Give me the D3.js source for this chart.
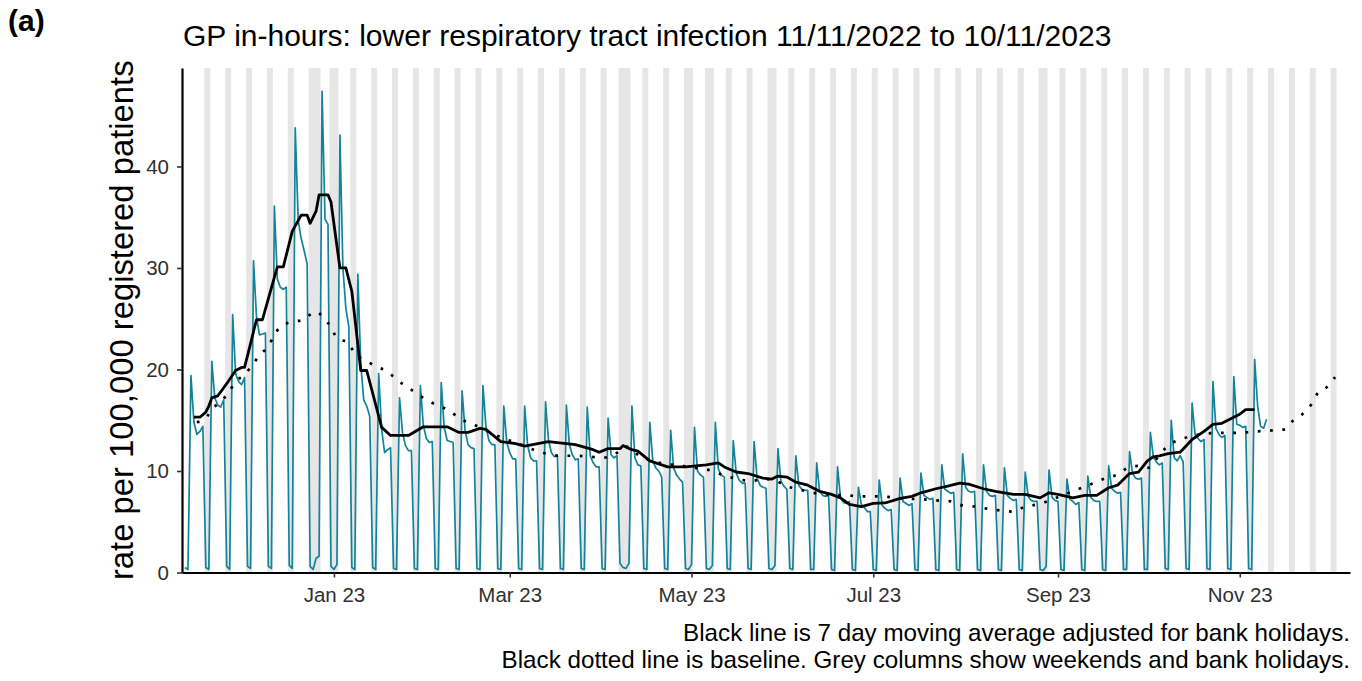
<!DOCTYPE html>
<html>
<head>
<meta charset="utf-8">
<script src="https://cdn.jsdelivr.net/npm/d3@7"></script>
<style>
  body { margin: 0; background: #fff; }
  svg { display: block; font-family: "Liberation Sans", Arial, sans-serif; }
</style>
</head>
<body>
<svg id="chart" width="1362" height="681"></svg>
<script>
// ---------------- DATA ----------------
const titleText = "GP in-hours: lower respiratory tract infection 11/11/2022 to 10/11/2023";
const panelLabel = "(a)";
const yAxisTitle = "rate per 100,000 registered patients";
const captionLines = [
  "Black line is 7 day moving average adjusted for bank holidays.",
  "Black dotted line is baseline. Grey columns show weekends and bank holidays."
];

// daily rate, one row per week: [Sat, Sun, Mon, Tue, Wed, Thu, Fri], first day Sat 12/11/2022
const dailyStart = "2022-11-12";
const dailyRate = [
  [0.5, 0.3, 19.4, 14.8, 13.6, 13.9, 14.4],
  [0.5, 0.3, 20.8, 17.2, 16.5, 16.3, 17.0],
  [0.6, 0.3, 25.4, 19.6, 18.8, 18.5, 19.2],
  [0.6, 0.4, 30.7, 25.2, 23.4, 23.5, 23.6],
  [0.6, 0.4, 36.1, 28.9, 28.1, 27.9, 28.1],
  [0.7, 0.4, 43.8, 34.7, 32.9, 31.7, 30.4],
  [0.6, 0.3, 1.4, 1.6, 47.4, 34.8, 34.3],
  [0.6, 0.3, 0.8, 43.1, 30.0, 26.0, 24.2],
  [0.5, 0.3, 29.4, 20.5, 17.0, 16.4, 15.4],
  [0.5, 0.3, 19.6, 14.1, 11.8, 12.1, 12.3],
  [0.4, 0.3, 17.2, 13.8, 12.5, 12.0, 12.0],
  [0.4, 0.3, 18.4, 14.5, 13.2, 12.8, 12.9],
  [0.4, 0.3, 18.7, 14.3, 13.0, 12.9, 12.8],
  [0.4, 0.3, 17.9, 14.0, 12.6, 12.3, 12.2],
  [0.4, 0.3, 18.4, 14.4, 13.0, 12.6, 12.6],
  [0.4, 0.3, 16.4, 12.8, 11.8, 11.2, 11.2],
  [0.4, 0.3, 16.4, 12.5, 11.3, 11.0, 11.0],
  [0.4, 0.3, 16.8, 13.0, 11.8, 11.4, 11.5],
  [0.4, 0.3, 16.5, 12.6, 11.6, 11.1, 11.2],
  [0.4, 0.3, 16.3, 11.5, 10.8, 10.4, 10.4],
  [0.4, 0.3, 15.2, 11.6, 11.3, 11.5, 0.9],
  [0.5, 0.4, 0.9, 16.4, 11.3, 10.6, 10.5],
  [0.4, 0.3, 14.8, 11.0, 10.3, 10.0, 9.4],
  [0.4, 0.3, 14.0, 10.3, 9.6, 9.2, 8.9],
  [0.4, 0.3, 0.8, 14.3, 10.0, 9.6, 9.4],
  [0.4, 0.3, 0.7, 14.8, 10.2, 9.6, 9.4],
  [0.4, 0.3, 13.0, 9.8, 9.1, 8.8, 8.8],
  [0.4, 0.3, 12.9, 9.3, 8.6, 8.4, 8.3],
  [0.4, 0.3, 0.7, 12.2, 9.0, 8.5, 8.2],
  [0.4, 0.3, 11.5, 8.6, 8.2, 8.1, 8.1],
  [0.3, 0.3, 10.8, 8.0, 7.6, 7.5, 7.6],
  [0.3, 0.2, 10.4, 7.4, 6.9, 6.8, 7.0],
  [0.3, 0.2, 8.4, 6.7, 6.4, 6.0, 6.0],
  [0.3, 0.2, 9.1, 6.6, 6.3, 6.1, 6.2],
  [0.3, 0.2, 9.3, 7.0, 6.8, 6.6, 6.8],
  [0.3, 0.2, 9.8, 7.6, 7.4, 7.2, 7.3],
  [0.3, 0.2, 10.6, 8.2, 8.0, 7.8, 7.9],
  [0.3, 0.2, 11.7, 8.4, 8.0, 7.9, 8.0],
  [0.3, 0.2, 10.6, 8.0, 7.6, 7.5, 7.6],
  [0.3, 0.2, 10.3, 7.6, 7.3, 7.1, 7.2],
  [0.3, 0.2, 9.9, 7.5, 7.1, 7.0, 7.0],
  [0.3, 0.2, 0.6, 10.1, 7.4, 7.1, 7.0],
  [0.3, 0.2, 9.2, 7.2, 7.0, 6.7, 6.9],
  [0.3, 0.2, 9.5, 7.4, 7.1, 7.0, 7.0],
  [0.3, 0.2, 10.5, 8.3, 8.0, 7.8, 7.9],
  [0.3, 0.3, 11.9, 9.8, 9.3, 9.2, 9.3],
  [0.3, 0.3, 13.8, 11.4, 10.9, 10.6, 10.8],
  [0.4, 0.3, 15.0, 11.3, 11.0, 11.5, 10.9],
  [0.4, 0.3, 16.7, 13.6, 13.2, 12.9, 13.1],
  [0.4, 0.3, 18.8, 14.2, 13.6, 13.3, 13.5],
  [0.4, 0.3, 19.3, 14.6, 14.5, 14.3, 14.4],
  [0.4, 0.3, 21.0, 16.4, 14.4, 14.2, 15.1]
];

// 7 day moving average (black line)
const movingAverage = [
  ["2022-11-15", 15.3], ["2022-11-17", 15.3], ["2022-11-19", 15.8], ["2022-11-20", 16.4],
  ["2022-11-21", 17.2], ["2022-11-23", 17.4], ["2022-11-25", 18.2], ["2022-11-26", 18.6],
  ["2022-11-29", 19.9], ["2022-12-01", 20.2], ["2022-12-02", 20.2], ["2022-12-06", 24.9],
  ["2022-12-08", 24.9], ["2022-12-13", 30.1], ["2022-12-15", 30.1], ["2022-12-18", 33.6],
  ["2022-12-21", 35.2], ["2022-12-23", 35.2], ["2022-12-24", 34.4], ["2022-12-26", 35.6],
  ["2022-12-27", 37.2], ["2022-12-30", 37.2], ["2022-12-31", 36.5], ["2023-01-03", 30.0],
  ["2023-01-05", 30.0], ["2023-01-07", 27.7], ["2023-01-10", 19.9], ["2023-01-12", 19.9],
  ["2023-01-17", 14.3], ["2023-01-20", 13.5], ["2023-01-26", 13.5], ["2023-01-31", 14.35],
  ["2023-02-08", 14.35], ["2023-02-12", 13.8], ["2023-02-15", 13.8], ["2023-02-19", 14.2],
  ["2023-02-21", 14.1], ["2023-02-26", 12.9], ["2023-03-03", 12.7], ["2023-03-06", 12.45],
  ["2023-03-14", 12.9], ["2023-03-23", 12.6], ["2023-03-29", 12.1], ["2023-03-31", 11.85],
  ["2023-04-03", 12.2], ["2023-04-07", 12.2], ["2023-04-08", 12.5], ["2023-04-11", 12.1],
  ["2023-04-13", 11.95], ["2023-04-17", 11.0], ["2023-04-21", 10.6], ["2023-04-23", 10.4],
  ["2023-04-29", 10.4], ["2023-05-06", 10.6], ["2023-05-10", 10.8], ["2023-05-12", 10.4],
  ["2023-05-16", 9.9], ["2023-05-20", 9.75], ["2023-05-25", 9.3], ["2023-05-28", 9.2],
  ["2023-05-30", 9.5], ["2023-06-02", 9.4], ["2023-06-05", 8.9], ["2023-06-09", 8.6],
  ["2023-06-13", 8.0], ["2023-06-17", 7.7], ["2023-06-20", 7.35], ["2023-06-23", 6.7],
  ["2023-06-27", 6.5], ["2023-07-01", 6.8], ["2023-07-05", 6.85], ["2023-07-10", 7.3],
  ["2023-07-14", 7.5], ["2023-07-17", 7.85], ["2023-07-22", 8.25], ["2023-07-26", 8.5],
  ["2023-07-30", 8.8], ["2023-08-02", 8.7], ["2023-08-07", 8.25], ["2023-08-11", 8.0],
  ["2023-08-17", 7.7], ["2023-08-21", 7.7], ["2023-08-26", 7.35], ["2023-08-29", 7.85],
  ["2023-09-01", 7.7], ["2023-09-06", 7.35], ["2023-09-10", 7.6], ["2023-09-14", 7.6],
  ["2023-09-18", 8.35], ["2023-09-21", 8.6], ["2023-09-25", 9.75], ["2023-09-28", 9.9],
  ["2023-10-01", 11.0], ["2023-10-03", 11.4], ["2023-10-05", 11.5], ["2023-10-08", 11.7],
  ["2023-10-12", 11.85], ["2023-10-16", 13.1], ["2023-10-20", 13.9], ["2023-10-23", 14.6],
  ["2023-10-26", 14.7], ["2023-10-30", 15.3], ["2023-11-01", 15.6], ["2023-11-03", 16.05],
  ["2023-11-06", 16.05]
];

// baseline (black dotted line)
const baseline = [
  ["2022-11-16", 14.8], ["2022-11-19", 15.2], ["2022-11-21", 16.1], ["2022-11-24", 16.8],
  ["2022-11-27", 17.9], ["2022-11-29", 18.8], ["2022-12-02", 19.5], ["2022-12-05", 20.6],
  ["2022-12-07", 21.4], ["2022-12-10", 22.3], ["2022-12-12", 23.4], ["2022-12-14", 24.2],
  ["2022-12-18", 24.7], ["2022-12-22", 24.9], ["2022-12-24", 25.4], ["2022-12-26", 25.7],
  ["2022-12-29", 24.9], ["2022-12-31", 24.2], ["2023-01-02", 23.1], ["2023-01-06", 22.6],
  ["2023-01-08", 21.5], ["2023-01-11", 21.0], ["2023-01-15", 20.3], ["2023-01-19", 19.8],
  ["2023-01-22", 19.0], ["2023-01-25", 18.4], ["2023-01-29", 17.6], ["2023-02-01", 17.0],
  ["2023-02-05", 16.45], ["2023-02-09", 15.9], ["2023-02-12", 15.2], ["2023-02-16", 14.7],
  ["2023-02-21", 14.0], ["2023-02-27", 13.2], ["2023-03-03", 12.8], ["2023-03-10", 12.0],
  ["2023-03-15", 11.6], ["2023-03-19", 11.5], ["2023-03-23", 11.5], ["2023-03-28", 11.4],
  ["2023-04-01", 11.3], ["2023-04-05", 11.6], ["2023-04-09", 12.4], ["2023-04-14", 11.4],
  ["2023-04-18", 11.0], ["2023-04-22", 10.7], ["2023-04-26", 10.6], ["2023-04-30", 10.4],
  ["2023-05-08", 10.0], ["2023-05-12", 9.55], ["2023-05-16", 9.25], ["2023-05-21", 9.0],
  ["2023-05-25", 9.2], ["2023-05-29", 9.1], ["2023-06-01", 8.6], ["2023-06-06", 8.2],
  ["2023-06-10", 7.9], ["2023-06-16", 7.7], ["2023-06-22", 7.6], ["2023-06-27", 7.5],
  ["2023-07-01", 7.5], ["2023-07-06", 7.45], ["2023-07-10", 7.3], ["2023-07-18", 7.2],
  ["2023-07-22", 7.1], ["2023-07-27", 7.0], ["2023-07-31", 6.6], ["2023-08-04", 6.5],
  ["2023-08-08", 6.3], ["2023-08-13", 6.1], ["2023-08-17", 6.0], ["2023-08-21", 6.5],
  ["2023-08-25", 6.7], ["2023-08-31", 7.3], ["2023-09-05", 7.9], ["2023-09-09", 8.35],
  ["2023-09-13", 8.8], ["2023-09-17", 9.3], ["2023-09-21", 9.65], ["2023-09-25", 10.4],
  ["2023-09-28", 10.5], ["2023-10-01", 10.3], ["2023-10-06", 11.95], ["2023-10-09", 12.7],
  ["2023-10-13", 13.2], ["2023-10-17", 13.5], ["2023-10-21", 13.7], ["2023-10-26", 13.75],
  ["2023-10-30", 13.75], ["2023-11-03", 13.8], ["2023-11-07", 13.9], ["2023-11-12", 14.0],
  ["2023-11-16", 14.1], ["2023-11-19", 15.0], ["2023-11-22", 15.6], ["2023-11-25", 16.55],
  ["2023-11-27", 17.6], ["2023-11-30", 18.2], ["2023-12-03", 19.25]
];

// grey columns: weekends in this range plus bank holidays
const weekendRange = ["2022-11-19", "2023-12-03"];
const bankHolidays = ["2022-12-26", "2022-12-27", "2023-01-02", "2023-04-07", "2023-04-10",
                      "2023-05-01", "2023-05-08", "2023-05-29", "2023-08-28"];

const xDomain = ["2022-11-11", "2023-12-08"];
const xTickDates = ["2023-01-01", "2023-03-01", "2023-05-01", "2023-07-01", "2023-09-01", "2023-11-01"];
const yTicks = [0, 10, 20, 30, 40];
const yMax = 49.7;

// ---------------- DRAW ----------------
const parse = d3.timeParse("%Y-%m-%d");
const svg = d3.select("#chart");
const L = 182, R = 1350, T = 68, B = 572.5;

const x = d3.scaleTime().domain(xDomain.map(parse)).range([L, R]);
const y = d3.scaleLinear().domain([0, yMax]).range([B, T]);

// grey columns
const greyDays = new Set();
d3.timeDay.range(parse(weekendRange[0]), d3.timeDay.offset(parse(weekendRange[1]), 1))
  .filter(d => d.getDay() === 0 || d.getDay() === 6)
  .forEach(d => greyDays.add(+d));
bankHolidays.forEach(s => greyDays.add(+parse(s)));
const sortedGrey = Array.from(greyDays).sort((a, b) => a - b).map(t => new Date(t));
const runs = [];
sortedGrey.forEach(d => {
  const last = runs[runs.length - 1];
  if (last && +d3.timeDay.offset(last.end, 1) === +d) last.end = d;
  else runs.push({ start: d, end: d });
});
const half = 12 * 3600 * 1000;
svg.append("g").selectAll("rect").data(runs).join("rect")
  .attr("x", d => x(new Date(+d.start - half)))
  .attr("width", d => x(new Date(+d.end + half)) - x(new Date(+d.start - half)))
  .attr("y", T)
  .attr("height", B - T)
  .attr("fill", "#e6e6e6");

// daily series
const start = parse(dailyStart);
const daily = dailyRate.flat().map((v, i) => ({ date: d3.timeDay.offset(start, i), value: v }));

svg.append("path")
  .datum(daily)
  .attr("fill", "none")
  .attr("stroke", "#13839a")
  .attr("stroke-width", 1.7)
  .attr("stroke-linejoin", "round")
  .attr("d", d3.line().x(d => x(d.date)).y(d => y(d.value)));

// baseline
svg.append("path")
  .datum(baseline)
  .attr("fill", "none")
  .attr("stroke", "#000")
  .attr("stroke-width", 2.7)
  .attr("stroke-dasharray", "2.7 9.6")
  .attr("d", d3.line().curve(d3.curveMonotoneX).x(d => x(parse(d[0]))).y(d => y(d[1])));

// moving average
svg.append("path")
  .datum(movingAverage)
  .attr("fill", "none")
  .attr("stroke", "#000")
  .attr("stroke-width", 2.8)
  .attr("stroke-linejoin", "round")
  .attr("d", d3.line().x(d => x(parse(d[0]))).y(d => y(d[1])));

// axes
const fmt = d3.timeFormat("%b %y");
const xAxis = svg.append("g")
  .attr("transform", `translate(0,${B})`)
  .call(d3.axisBottom(x).tickValues(xTickDates.map(parse)).tickFormat(fmt)
        .tickSizeInner(5).tickSizeOuter(0).tickPadding(10));
const yAxis = svg.append("g")
  .attr("transform", `translate(${L},0)`)
  .call(d3.axisLeft(y).tickValues(yTicks).tickSizeInner(5).tickSizeOuter(0).tickPadding(8));

[xAxis, yAxis].forEach(g => {
  g.select(".domain").attr("stroke", "#000").attr("stroke-width", 2.2);
  g.selectAll(".tick line").attr("stroke", "#333").attr("stroke-width", 1.6);
  g.selectAll(".tick text").attr("fill", "#303030").attr("font-size", "20.5px")
    .attr("font-family", "'Liberation Sans', Arial, sans-serif");
});

// texts
svg.append("text").attr("x", 8).attr("y", 31)
  .attr("font-size", "30px").attr("font-weight", "bold").attr("fill", "#000")
  .text(panelLabel);

svg.append("text").attr("x", L + 1).attr("y", 46)
  .attr("font-size", "30px").attr("fill", "#000")
  .text(titleText);

svg.append("text")
  .attr("transform", `translate(133,${(T + B) / 2}) rotate(-90)`)
  .attr("text-anchor", "middle")
  .attr("font-size", "32.8px").attr("fill", "#000")
  .text(yAxisTitle);

svg.selectAll("text.caption").data(captionLines).join("text")
  .attr("class", "caption")
  .attr("x", R)
  .attr("y", (d, i) => 641 + i * 27)
  .attr("text-anchor", "end")
  .attr("font-size", "24.2px").attr("fill", "#000")
  .text(d => d);
</script>
</body>
</html>
